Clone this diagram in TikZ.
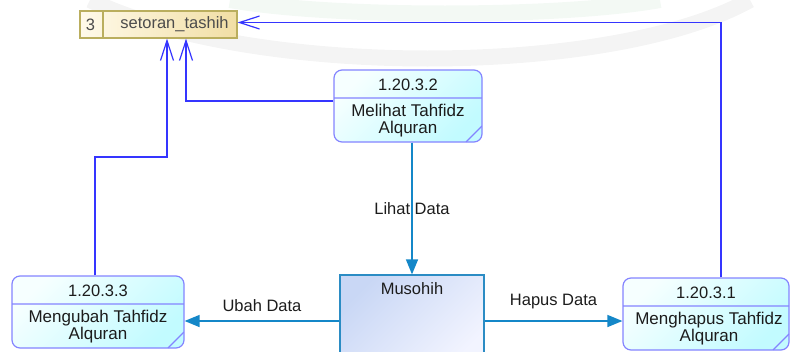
\documentclass[tikz,border=0pt]{standalone}
\usepackage{fontspec}
\setmainfont{Liberation Sans}
\usetikzlibrary{arrows.meta,positioning,calc}
\definecolor{ProcLine}{HTML}{8484FF}
\definecolor{ProcTop}{HTML}{F6FFFF}
\definecolor{ProcBot}{HTML}{C2FBFF}
\definecolor{StoreLine}{HTML}{BAAE5E}
\definecolor{StoreLeft}{HTML}{FFFAEA}
\definecolor{StoreRight}{HTML}{F1DEA4}
\definecolor{EntLine}{HTML}{2B8CC4}
\definecolor{EntTop}{HTML}{C9D7F5}
\definecolor{EntBot}{HTML}{F2F4FF}
\definecolor{DataLine}{HTML}{3535FF}
\definecolor{FlowLine}{HTML}{1487C8}
\definecolor{TextDark}{HTML}{1C1C1C}
\definecolor{WaterGray}{HTML}{F4F4F4}
\definecolor{WaterGreen}{HTML}{F3F9F4}
\tikzset{
  proc/.style={draw=ProcLine,line width=1.2pt,rounded corners=8pt,inner sep=0pt,
              top color=ProcTop,bottom color=ProcBot,shading angle=45,minimum height=72pt,
              path picture={\draw[ProcLine,line width=1.2pt,sharp corners]
                ([yshift=-28pt]path picture bounding box.north west) -- ([yshift=-28pt]path picture bounding box.north east)
                ([yshift=16pt]path picture bounding box.south east) -- ([xshift=-16pt]path picture bounding box.south east);}},
  store/.style={draw=StoreLine,line width=1.2pt,inner sep=0pt,left color=StoreLeft,right color=StoreRight,
              minimum width=157pt,minimum height=27pt,
              path picture={\draw[StoreLine,line width=1.2pt]
                ([xshift=23pt]path picture bounding box.north west) -- ([xshift=23pt]path picture bounding box.south west);}},
  entity/.style={draw=EntLine,line width=1.2pt,inner sep=0pt,top color=EntTop,bottom color=EntBot,shading angle=45},
  hdr/.style={font=\fontsize{16.5}{17}\selectfont,text=TextDark,inner sep=0pt},
  body/.style={font=\fontsize{17}{17}\selectfont,text=TextDark,align=center,inner sep=0pt},
  storetxt/.style={font=\fontsize{16.5}{17}\selectfont,text=black!70,inner sep=0pt},
  lbl/.style={font=\fontsize{16.5}{17}\selectfont,text=TextDark,inner sep=0pt},
  dataflow/.style={-{Straight Barb[length=20pt,width=13pt,line width=1.2pt]},line width=1.3pt,draw=DataLine},
  flow/.style={-{Triangle[length=15pt,width=12pt]},line width=1.5pt,draw=FlowLine,fill=FlowLine}
}
\begin{document}
\begin{tikzpicture}[x=1pt,y=-1pt]
  \useasboundingbox (0,0) rectangle (790,351);
  \clip (0,0) rectangle (790,351);
  % faint background watermark
  \draw[WaterGray,line width=16pt] (90,0) .. controls (250,78) and (610,78) .. (750,0);
  \draw[WaterGreen,line width=16pt] (230,0) .. controls (330,18) and (560,18) .. (660,0);

  \node[store] (store) at (158.5,24.5) {};
  \node[storetxt] at ([xshift=11pt]store.west) {3};
  \node[storetxt] at ([xshift=16pt]store.center) {setoran\_tashih};

  \node[proc,minimum width=148pt] (p2) at (408,106) {};
  \node[hdr] at ([yshift=-15pt]p2.north) {1.20.3.2};
  \node[body] at ([yshift=22pt]p2.south) {Melihat Tahfidz\\Alquran};

  \node[proc,minimum width=172pt] (p3) at (98,312) {};
  \node[hdr] at ([yshift=-15pt]p3.north) {1.20.3.3};
  \node[body] at ([yshift=22pt]p3.south) {Mengubah Tahfidz\\Alquran};

  \node[proc,minimum width=166pt] (p1) at (706,314) {};
  \node[hdr] at ([yshift=-15pt]p1.north) {1.20.3.1};
  \node[body] at ([xshift=3pt,yshift=22pt]p1.south) {Menghapus Tahfidz\\Alquran};

  \node[entity,minimum width=144pt,minimum height=92pt] (ent) at (412,321) {};
  \node[hdr] at ([yshift=-14pt]ent.north) {Musohih};

  \coordinate (bendL) at (167,157);
  \draw[dataflow] ([yshift=5pt]p2.west) -| ([xshift=27.5pt]store.south);
  \draw[dataflow] ([xshift=-3pt]p3.north) |- (bendL) -- (bendL |- store.south);
  \draw[dataflow] ([xshift=15pt]p1.north) |- ([yshift=2pt]store.east);

  \draw[flow] (ent.north |- p2.south) -- node[lbl]{Lihat Data} (ent.north);
  \draw[flow] (ent.west) -- node[lbl,above=9pt]{Ubah Data} (ent.west -| p3.east);
  \draw[flow] (ent.east) -- node[lbl,above=11pt]{Hapus Data} (ent.east -| p1.west);
\end{tikzpicture}
\end{document}
